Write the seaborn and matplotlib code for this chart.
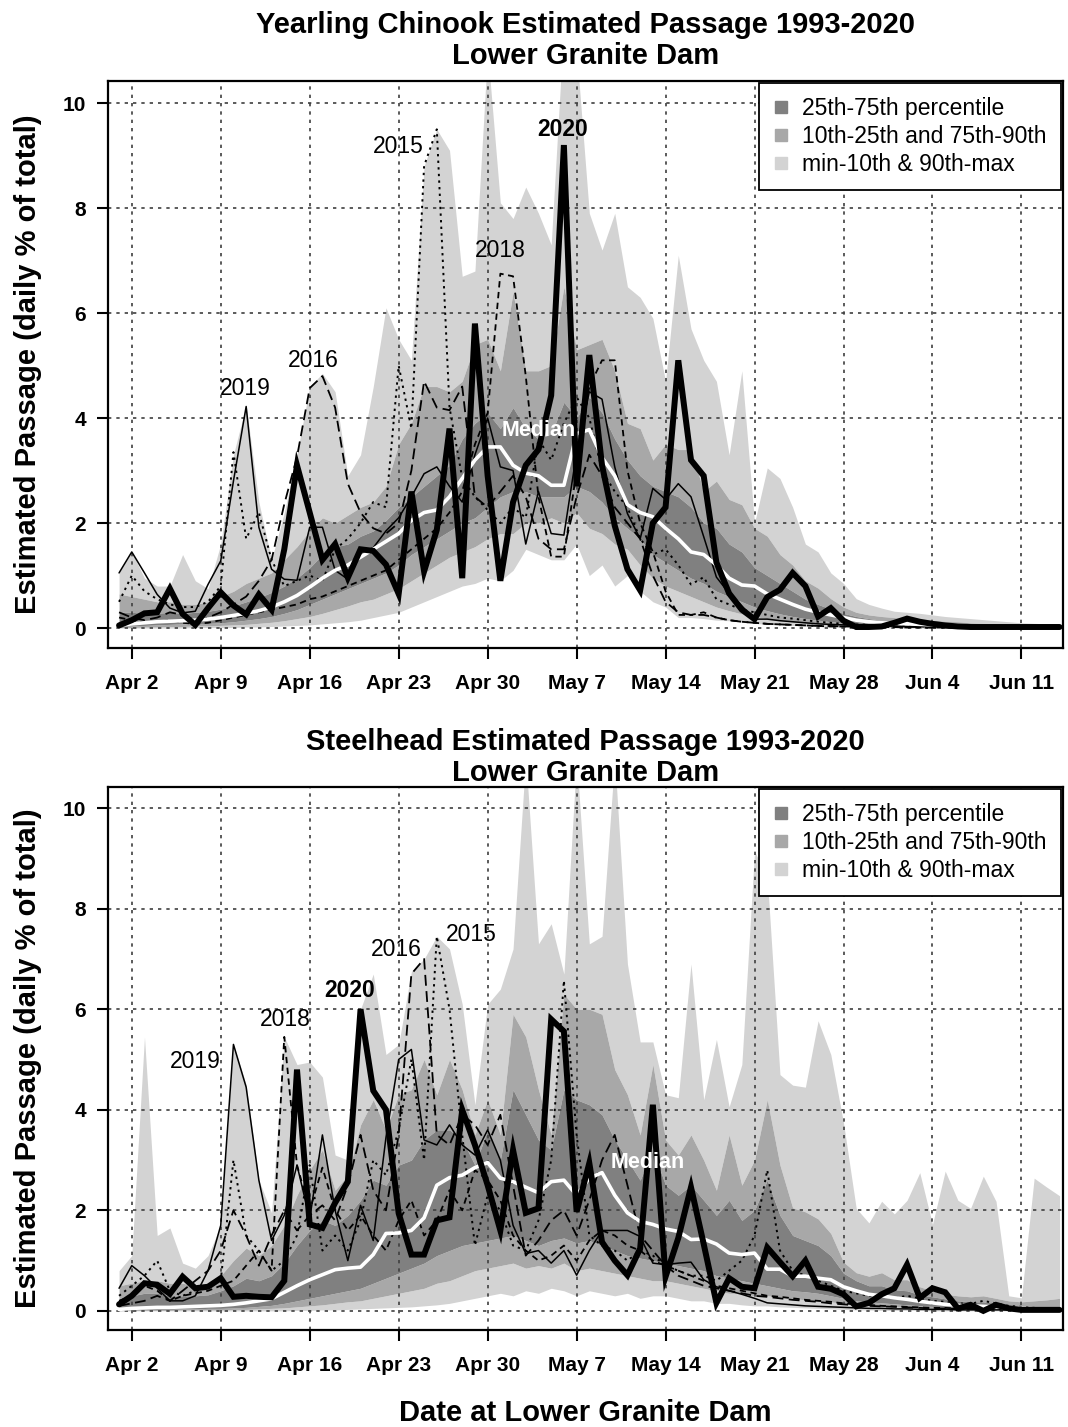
import numpy as np
import pandas as pd
import matplotlib
matplotlib.use("Agg")
import matplotlib.pyplot as plt
import seaborn as sns
from matplotlib.lines import Line2D

# ---------------- data ----------------
days = list(range(75))  # 0 = Apr 1 ... 74 = Jun 14
tick_days = [1, 8, 15, 22, 29, 36, 43, 50, 57, 64, 71]
tick_labels = ["Apr 2", "Apr 9", "Apr 16", "Apr 23", "Apr 30", "May 7",
               "May 14", "May 21", "May 28", "Jun 4", "Jun 11"]
y_ticks = [0, 2, 4, 6, 8, 10]
legend_labels = ["25th-75th percentile", "10th-25th and 75th-90th", "min-10th & 90th-max"]

# Yearling Chinook (top panel)
T_max = [1.05,1.45,0.95,0.8,0.8,1.4,0.9,0.75,1.6,3.3,4.25,2.4,1.3,
         2.2,3.3,4.6,4.85,4.5,2.9,3.3,4.6,6.1,5.5,5.1,8.8,9.5,9.1,6.7,6.8,11.0,
         8.1,7.8,8.4,7.9,7.3,11.5,11.0,7.9,7.2,7.9,6.5,6.3,5.9,4.7,7.1,5.7,5.1,4.7,3.3,4.9,
         2.0,3.05,2.85,2.3,1.6,1.45,1.05,0.85,0.56,0.45,0.38,0.32,0.3,0.28,0.25,0.22,0.2,0.18,0.16,0.14,0.12,0.1,0.09,0.08,0.07]
T_p90 = [0.65,0.6,0.55,0.5,0.5,0.45,0.45,0.5,0.6,0.7,0.85,0.95,1.05,
         1.3,1.55,1.85,2.1,2.0,2.15,2.3,2.4,2.7,3.5,3.9,4.6,4.6,4.5,4.7,5.4,5.5,
         4.9,6.4,4.9,4.9,5.0,6.5,5.3,5.4,5.5,4.9,3.9,3.8,3.2,3.5,3.4,3.4,2.6,2.8,2.45,2.35,
         1.9,1.75,1.4,1.2,0.9,0.76,0.56,0.4,0.3,0.25,0.22,0.2,0.18,0.16,0.15,0.13,0.12,0.1,0.09,0.08,0.07,0.06,0.05,0.05,0.04]
T_p75 = [0.3,0.3,0.28,0.28,0.3,0.28,0.3,0.32,0.36,0.42,0.5,0.58,0.68,
         0.8,0.95,1.15,1.4,1.55,1.6,1.75,1.85,2.05,2.3,2.5,2.7,2.9,3.1,3.6,3.9,4.1,
         3.8,4.2,3.8,3.6,3.7,4.3,4.0,4.4,4.1,3.6,3.2,2.9,2.7,2.6,2.5,2.3,2.0,1.9,1.6,1.45,
         1.15,1.0,0.85,0.7,0.55,0.45,0.36,0.28,0.22,0.18,0.15,0.13,0.12,0.1,0.09,0.08,0.07,0.06,0.05,0.05,0.04,0.04,0.03,0.03,0.03]
T_med = [0.05,0.08,0.1,0.12,0.13,0.14,0.15,0.17,0.2,0.24,0.28,0.33,0.4,
         0.5,0.62,0.78,0.95,1.1,1.2,1.35,1.5,1.65,1.8,2.05,2.2,2.25,2.5,2.85,3.2,3.45,
         3.45,3.1,2.95,2.9,2.72,2.72,3.7,3.78,3.25,2.9,2.35,2.2,2.12,1.9,1.7,1.45,1.4,1.2,0.95,0.82,
         0.8,0.65,0.55,0.45,0.36,0.3,0.25,0.2,0.15,0.12,0.1,0.09,0.08,0.07,0.06,0.05,0.05,0.04,0.04,0.03,0.03,0.02,0.02,0.02,0.02]
T_p25 = [0.03,0.04,0.05,0.06,0.07,0.08,0.08,0.09,0.1,0.12,0.15,0.18,0.22,
         0.28,0.35,0.45,0.55,0.65,0.75,0.85,0.95,1.05,1.2,1.4,1.55,1.7,1.85,2.0,2.1,2.3,
         2.5,2.6,2.6,2.5,2.5,2.5,2.7,2.6,2.4,2.1,1.9,1.7,1.4,1.25,1.1,0.95,0.85,0.7,0.6,0.5,
         0.4,0.33,0.27,0.22,0.18,0.15,0.12,0.1,0.08,0.07,0.06,0.05,0.04,0.04,0.03,0.03,0.02,0.02,0.02,0.02,0.01,0.01,0.01,0.01,0.01]
T_p10 = [0.01,0.01,0.02,0.02,0.03,0.03,0.04,0.04,0.05,0.06,0.07,0.09,0.11,
         0.14,0.18,0.22,0.28,0.35,0.42,0.5,0.55,0.65,0.75,0.9,1.05,1.2,1.35,1.45,1.55,1.7,
         1.8,1.8,2.0,2.0,2.1,2.0,2.2,1.9,1.8,1.6,1.5,1.2,0.95,0.8,0.7,0.6,0.5,0.4,0.33,0.27,
         0.22,0.18,0.14,0.11,0.09,0.07,0.06,0.05,0.04,0.03,0.03,0.02,0.02,0.02,0.01,0.01,0.01,0.01,0.01,0.01,0.0,0.0,0.0,0.0,0.0]
T_min = [0.0,0.0,0.0,0.0,0.0,0.0,0.01,0.01,0.01,0.01,0.02,0.02,0.03,
         0.04,0.05,0.06,0.08,0.1,0.12,0.15,0.2,0.25,0.3,0.4,0.5,0.6,0.7,0.8,0.85,0.95,
         0.9,1.1,1.5,1.4,1.3,1.3,1.6,1.0,1.2,0.8,1.0,0.7,0.5,0.4,0.2,0.2,0.18,0.15,0.14,0.11,
         0.09,0.07,0.06,0.05,0.04,0.03,0.02,0.02,0.01,0.01,0.01,0.0,0.0,0.0,0.0,0.0,0.0,0.0,0.0,0.0,0.0,0.0,0.0,0.0,0.0]

T_2020 = [0.05,0.15,0.28,0.3,0.75,0.27,0.06,0.38,0.68,0.43,0.26,0.64,0.35,
          1.5,3.1,2.2,1.3,1.6,0.96,1.5,1.47,1.21,0.65,2.6,1.08,1.87,3.8,0.95,5.8,2.9,
          0.9,2.4,3.1,3.4,4.43,9.2,2.7,5.2,3.1,1.95,1.12,0.72,2.0,2.3,5.1,3.2,2.9,1.25,0.66,0.35,
          0.17,0.59,0.73,1.05,0.8,0.22,0.38,0.14,0.02,0.02,0.03,0.1,0.18,0.12,0.08,0.05,0.03,0.02,0.02,0.02,0.02,0.02,0.02,0.02,0.02]
T_2019 = [1.05,1.45,1.05,0.64,0.38,0.29,0.32,0.83,1.28,2.8,4.22,1.92,1.12,
          0.93,0.91,1.92,1.92,1.1,0.93,1.44,1.53,1.85,2.1,2.5,2.94,3.07,2.7,2.4,3.3,4.0,
          3.07,3.0,1.6,2.6,1.8,1.77,3.34,4.5,4.36,3.07,2.18,1.7,2.66,2.45,2.75,2.5,1.74,0.97,0.66,0.42,
          0.17,0.17,0.14,0.12,0.1,0.08,0.07,0.06,0.05,0.05,0.04,0.04,0.03,0.03,0.03,0.03,0.02,0.02,0.02,0.02,0.01,0.01,0.01,0.01,0.01]
T_2018 = [0.2,0.15,0.1,0.12,0.15,0.1,0.08,0.1,0.15,0.2,0.25,0.3,0.35,
          0.4,0.45,0.55,0.6,0.7,0.8,0.9,1.0,1.1,1.3,1.5,1.7,1.9,2.2,2.6,3.5,4.1,
          6.75,6.7,4.8,2.5,1.36,1.36,3.0,4.6,5.1,5.1,3.0,2.0,1.45,0.7,0.25,0.25,0.3,0.2,0.15,0.12,
          0.1,0.08,0.07,0.06,0.05,0.04,0.03,0.03,0.02,0.02,0.02,0.02,0.01,0.01,0.01,0.01,0.01,0.01,0.01,0.01,0.01,0.01,0.01,0.01,0.01]
T_2016 = [0.3,0.2,0.15,0.2,0.3,0.25,0.15,0.2,0.3,0.45,0.6,0.9,1.3,
          2.36,3.26,4.57,4.8,4.2,2.75,2.2,1.9,1.8,2.0,3.0,4.7,4.2,4.15,4.6,2.5,2.3,
          2.6,2.9,2.5,1.7,1.5,1.5,2.5,3.3,2.9,2.3,2.0,1.7,1.0,0.5,0.3,0.25,0.25,0.2,0.15,0.12,
          0.1,0.08,0.07,0.06,0.05,0.04,0.04,0.03,0.03,0.02,0.02,0.02,0.02,0.02,0.01,0.01,0.01,0.01,0.01,0.01,0.01,0.01,0.01,0.01,0.01]
T_2015 = [0.5,1.0,0.7,0.55,0.45,0.4,0.4,0.5,0.8,3.35,1.7,2.2,1.3,
          0.8,0.9,1.0,0.9,1.5,1.7,2.0,2.4,2.3,5.0,3.8,8.8,9.5,4.2,2.86,2.5,2.25,
          2.0,2.3,2.1,3.6,3.2,3.9,4.4,4.0,3.0,2.6,2.3,1.7,1.4,1.5,1.2,0.83,0.97,0.55,0.45,0.35,
          0.3,0.25,0.2,0.18,0.15,0.12,0.1,0.08,0.07,0.06,0.05,0.04,0.04,0.03,0.03,0.03,0.02,0.02,0.02,0.02,0.02,0.01,0.01,0.01,0.01]

# Steelhead (bottom panel)
S_max = [0.8,1.1,5.45,1.5,1.65,0.95,0.85,1.1,1.7,5.3,4.5,2.6,1.95,
         5.45,4.9,4.95,4.65,3.1,3.0,6.0,6.7,5.1,5.3,6.75,7.0,7.45,7.2,6.1,4.1,6.1,
         6.4,7.2,11.0,7.3,7.7,6.7,11.0,7.3,7.45,11.0,6.9,5.35,5.35,4.3,4.24,6.9,4.2,5.4,4.06,4.9,
         9.14,8.64,4.7,4.49,4.45,5.77,5.1,3.74,2.04,1.75,2.18,1.93,2.2,2.75,1.72,2.78,2.2,2.04,2.68,2.18,0.3,0.26,2.64,2.46,2.29]
S_p90 = [0.5,0.55,0.6,0.6,0.55,0.55,0.5,0.55,0.7,1.0,1.25,1.1,1.3,
         1.7,2.3,2.8,3.2,2.4,2.7,3.7,4.2,3.6,4.3,4.4,5.0,4.3,5.0,4.4,3.5,4.2,
         3.5,5.9,5.45,4.4,3.5,6.3,6.0,6.0,5.9,4.8,4.3,3.5,4.9,3.4,3.1,3.5,3.0,2.4,3.5,2.5,
         3.0,4.2,2.9,2.05,1.97,1.83,1.54,0.97,0.76,0.69,0.76,0.62,0.62,0.48,0.4,0.33,0.3,0.28,0.3,0.25,0.2,0.18,0.2,0.22,0.25]
S_p75 = [0.25,0.3,0.35,0.35,0.3,0.3,0.3,0.32,0.4,0.5,0.65,0.6,0.7,
         0.95,1.3,1.6,1.8,1.7,1.9,2.2,2.6,2.5,2.9,3.0,3.4,3.6,3.6,3.4,2.9,3.6,
         3.0,4.4,3.9,3.4,3.2,4.4,4.2,4.1,3.9,3.4,3.0,2.6,3.2,2.5,2.3,2.5,2.2,1.9,2.2,1.8,
         2.0,2.6,1.9,1.5,1.4,1.3,1.1,0.75,0.6,0.5,0.5,0.42,0.4,0.32,0.28,0.24,0.2,0.18,0.18,0.15,0.12,0.1,0.1,0.1,0.1]
S_med = [0.03,0.05,0.06,0.07,0.07,0.08,0.09,0.1,0.11,0.13,0.16,0.2,0.24,
         0.37,0.5,0.62,0.72,0.82,0.85,0.87,1.12,1.54,1.55,1.6,1.85,2.5,2.65,2.7,2.85,2.95,
         2.64,2.57,2.46,2.35,2.57,2.6,2.3,2.64,2.75,2.3,1.95,1.78,1.72,1.63,1.58,1.42,1.43,1.33,1.15,1.12,
         1.15,0.83,0.83,0.69,0.69,0.65,0.62,0.48,0.4,0.33,0.3,0.26,0.23,0.19,0.16,0.13,0.11,0.1,0.09,0.08,0.06,0.05,0.04,0.03,0.03]
S_p25 = [0.01,0.02,0.03,0.03,0.03,0.04,0.04,0.05,0.05,0.06,0.07,0.09,0.11,
         0.15,0.2,0.25,0.3,0.35,0.4,0.45,0.55,0.65,0.75,0.85,0.95,1.1,1.2,1.3,1.35,1.4,
         1.45,1.5,1.4,1.3,1.4,1.45,1.35,1.4,1.3,1.2,1.1,1.05,1.0,0.95,0.9,0.85,0.8,0.7,0.65,0.6,
         0.55,0.5,0.45,0.4,0.38,0.35,0.3,0.25,0.2,0.18,0.16,0.14,0.12,0.1,0.09,0.08,0.07,0.06,0.05,0.05,0.04,0.04,0.03,0.03,0.03]
S_p10 = [0.0,0.01,0.01,0.01,0.01,0.02,0.02,0.02,0.02,0.03,0.03,0.04,0.05,
         0.06,0.08,0.1,0.12,0.15,0.18,0.2,0.25,0.3,0.35,0.4,0.45,0.55,0.6,0.7,0.8,0.85,
         0.9,0.95,0.85,0.9,0.85,0.95,0.8,0.85,0.8,0.75,0.7,0.65,0.6,0.6,0.55,0.5,0.45,0.4,0.35,0.35,
         0.3,0.3,0.28,0.25,0.22,0.2,0.18,0.15,0.12,0.1,0.09,0.08,0.07,0.06,0.05,0.05,0.04,0.03,0.03,0.02,0.02,0.02,0.01,0.01,0.01]
S_min = [0.0,0.0,0.0,0.0,0.0,0.0,0.0,0.0,0.0,0.0,0.0,0.0,0.0,
         0.0,0.01,0.01,0.02,0.02,0.03,0.04,0.05,0.06,0.07,0.08,0.1,0.12,0.15,0.2,0.25,0.3,
         0.35,0.3,0.4,0.35,0.45,0.4,0.3,0.4,0.35,0.3,0.35,0.25,0.3,0.3,0.25,0.2,0.2,0.15,0.15,0.12,
         0.1,0.1,0.08,0.07,0.06,0.05,0.04,0.03,0.02,0.02,0.01,0.01,0.01,0.01,0.0,0.0,0.0,0.0,0.0,0.0,0.0,0.0,0.0,0.0,0.0]

S_2020 = [0.13,0.3,0.55,0.52,0.34,0.68,0.45,0.48,0.65,0.28,0.3,0.28,0.27,
          0.6,4.8,1.72,1.65,2.15,2.57,6.0,4.38,4.0,1.94,1.12,1.12,1.8,1.86,4.0,3.3,2.5,
          1.6,3.2,1.95,2.04,5.8,5.56,1.97,2.94,1.37,1.0,0.71,1.24,4.1,0.68,1.45,2.46,1.33,0.16,0.65,0.48,
          0.45,1.26,0.97,0.69,1.0,0.48,0.44,0.33,0.09,0.16,0.33,0.45,0.92,0.26,0.45,0.37,0.05,0.12,0.0,0.12,0.05,0.02,0.02,0.02,0.02]
S_2019 = [0.45,0.9,0.7,0.45,0.2,0.2,0.3,0.8,1.7,5.3,4.45,2.6,1.4,
          1.9,2.9,1.83,3.5,2.0,1.0,2.1,1.4,3.45,5.0,5.2,3.4,3.3,3.7,3.3,3.1,3.6,
          3.0,1.7,1.14,1.2,0.95,1.2,0.71,1.2,1.6,1.6,1.6,1.48,0.95,0.92,0.95,0.97,0.62,0.48,0.4,0.33,
          0.25,0.16,0.14,0.12,0.1,0.09,0.08,0.07,0.06,0.05,0.05,0.04,0.04,0.03,0.03,0.03,0.02,0.02,0.02,0.02,0.02,0.01,0.01,0.01,0.01]
S_2018 = [0.2,0.3,0.5,0.4,0.2,0.3,0.35,0.4,0.5,0.6,0.9,1.2,0.8,
          5.45,2.9,2.0,2.85,2.0,1.6,1.9,1.5,1.2,1.8,2.2,1.5,1.8,2.4,2.0,2.8,2.6,
          2.2,1.5,1.2,1.0,1.1,1.3,1.0,1.4,1.6,1.5,1.3,1.2,1.0,0.9,0.8,0.7,0.6,0.5,0.45,0.4,
          0.35,0.3,0.28,0.25,0.22,0.2,0.18,0.15,0.13,0.12,0.1,0.09,0.08,0.07,0.06,0.06,0.05,0.05,0.04,0.04,0.03,0.03,0.03,0.03,0.02]
S_2016 = [0.1,0.15,0.2,0.3,0.2,0.4,0.6,0.8,1.2,2.0,1.5,0.9,1.5,
          2.0,1.6,1.9,2.1,1.8,2.5,3.5,2.4,2.0,3.5,6.7,7.0,3.5,3.3,3.9,3.7,3.3,
          3.9,2.5,1.1,1.4,1.8,2.0,1.5,2.2,3.0,3.5,2.5,1.5,1.2,0.9,0.7,0.6,0.5,0.45,0.4,0.35,
          0.3,0.28,0.25,0.22,0.2,0.18,0.15,0.13,0.11,0.1,0.09,0.08,0.07,0.06,0.05,0.05,0.04,0.04,0.03,0.03,0.03,0.02,0.02,0.02,0.02]
S_2015 = [0.3,0.5,0.7,1.0,0.4,0.3,0.4,0.5,0.6,3.0,1.5,1.2,0.8,
          1.0,1.5,2.9,1.2,1.5,1.2,1.8,3.0,2.7,3.6,5.0,3.0,7.45,6.0,3.5,1.3,2.3,
          2.0,1.3,1.2,1.8,3.0,6.57,3.5,1.5,1.3,1.2,1.0,1.2,1.1,0.9,0.8,0.7,0.7,0.6,0.8,1.0,
          1.5,2.8,1.2,0.8,0.7,0.6,0.5,0.4,0.35,0.3,0.28,0.25,0.3,0.25,0.2,0.18,0.15,0.14,0.2,0.15,0.1,0.08,0.06,0.05,0.04]

# ---------------- style ----------------
sns.set_theme(style="ticks")
plt.rcParams["font.family"] = ["Liberation Sans", "DejaVu Sans"]
for k in ("text.color", "axes.labelcolor", "xtick.color", "ytick.color", "axes.edgecolor"):
    plt.rcParams[k] = "black"

C_DARK, C_MED, C_LIGHT = "#808080", "#a8a8a8", "#d3d3d3"

fig = plt.figure(figsize=(10.68, 14.27), dpi=100)
ax_top = fig.add_axes([108/1068, 1-648/1427, 955/1068, 567/1427])
ax_bot = fig.add_axes([108/1068, 1-1330/1427, 955/1068, 543/1427])

years_style = {
    "2015": dict(linestyle=(0, (1.2, 2.2)), lw=1.4),
    "2016": dict(linestyle=(0, (6, 3)), lw=1.3),
    "2018": dict(linestyle=(0, (3.5, 2.5)), lw=1.3),
    "2019": dict(linestyle="-", lw=1.1),
}


def draw_panel(ax, q, lines, title, labels, med_label, title_pad):
    mn, p10, p25, med, p75, p90, mx = [np.array(v, dtype=float) for v in q]
    x = np.array(days)
    ax.fill_between(x, mn, p10, color=C_LIGHT, lw=0, zorder=1)
    ax.fill_between(x, p90, mx, color=C_LIGHT, lw=0, zorder=1)
    ax.fill_between(x, p10, p25, color=C_MED, lw=0, zorder=1)
    ax.fill_between(x, p75, p90, color=C_MED, lw=0, zorder=1)
    ax.fill_between(x, p25, p75, color=C_DARK, lw=0, zorder=1)

    # grid (drawn over bands)
    for t in tick_days:
        ax.axvline(t, color="#404040", lw=1.2, linestyle=(0, (2, 3)), zorder=2)
    for t in y_ticks:
        ax.axhline(t, color="#404040", lw=1.2, linestyle=(0, (2, 3)), zorder=2)

    for yr, vals in lines.items():
        if yr == "2020":
            continue
        sns.lineplot(x=days, y=vals, ax=ax, color="black", zorder=3, **years_style[yr])
    sns.lineplot(x=days, y=list(med), ax=ax, color="white", lw=2.6, zorder=4)
    sns.lineplot(x=days, y=lines["2020"], ax=ax, color="black", lw=4.3, zorder=5,
                 solid_joinstyle="miter")

    for txt, (xx, yy) in labels.items():
        ax.text(xx, yy, txt, ha="center", va="center", fontsize=16.5, zorder=6,
                fontweight="bold" if txt == "2020" else "normal", color="black")
    ax.text(med_label[0], med_label[1], "Median", ha="center", va="center",
            fontsize=15.5, fontweight="bold", color="white", zorder=6)

    ax.set_xlim(-0.87, 74.27)
    ax.set_ylim(-0.38, 10.42)
    ax.set_xticks(tick_days)
    ax.set_xticklabels(tick_labels, fontsize=15, fontweight="bold")
    ax.set_yticks(y_ticks)
    ax.set_yticklabels([str(t) for t in y_ticks], fontsize=15, fontweight="bold")
    ax.tick_params(direction="out", length=8, width=1.5, color="black", pad=8,
                   top=False, right=False)
    ax.tick_params(axis="x", pad=11)
    for s in ax.spines.values():
        s.set_visible(True)
        s.set_color("black")
        s.set_linewidth(1.6)
    ax.set_ylabel("Estimated Passage (daily % of total)", fontsize=21,
                  fontweight="bold", labelpad=15)
    ax.set_xlabel("")
    ax.set_title(title, fontsize=21, fontweight="bold", pad=title_pad, linespacing=1.15)

    handles = [Line2D([], [], marker="s", linestyle="none", markersize=9,
                      markerfacecolor=c, markeredgecolor=c) for c in (C_DARK, C_MED, C_LIGHT)]
    leg = ax.legend(handles, legend_labels, loc="upper right", fontsize=16.5,
                    frameon=True, fancybox=False, edgecolor="black", framealpha=1,
                    borderaxespad=0.1, handlelength=0.7, handletextpad=0.6,
                    labelspacing=0.22, borderpad=0.6)
    leg.get_frame().set_linewidth(1.3)
    leg.set_zorder(10)


draw_panel(ax_top,
           (T_min, T_p10, T_p25, T_med, T_p75, T_p90, T_max),
           {"2015": T_2015, "2016": T_2016, "2018": T_2018, "2019": T_2019, "2020": T_2020},
           "Yearling Chinook Estimated Passage 1993-2020\nLower Granite Dam",
           {"2019": (9.9, 4.57), "2016": (15.3, 5.09), "2015": (21.95, 9.18),
            "2018": (30.0, 7.2), "2020": (34.9, 9.49)},
           (33.0, 3.77), 12)

draw_panel(ax_bot,
           (S_min, S_p10, S_p25, S_med, S_p75, S_p90, S_max),
           {"2015": S_2015, "2016": S_2016, "2018": S_2018, "2019": S_2019, "2020": S_2020},
           "Steelhead Estimated Passage 1993-2020\nLower Granite Dam",
           {"2019": (5.98, 4.97), "2018": (13.06, 5.79), "2020": (18.17, 6.38),
            "2016": (21.8, 7.18), "2015": (27.7, 7.48)},
           (41.6, 2.96), 3)
ax_bot.set_xlabel("Date at Lower Granite Dam", fontsize=21, fontweight="bold", labelpad=17)

fig.savefig("out.png", dpi=100)
